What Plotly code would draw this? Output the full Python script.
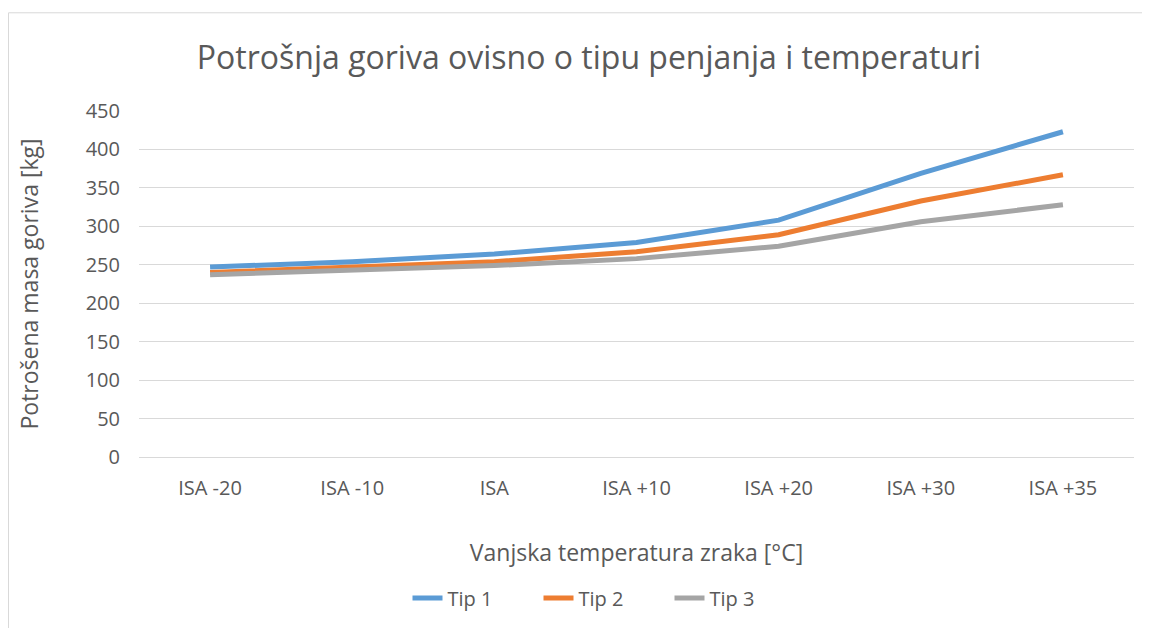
import plotly.graph_objects as go

categories = ["ISA -20", "ISA -10", "ISA", "ISA +10", "ISA +20", "ISA +30", "ISA +35"]
tip1 = [247, 254, 264, 279, 308, 369, 423]
tip2 = [240, 247, 254, 267, 289, 333, 367]
tip3 = [237, 243, 249, 258, 274, 306, 328]
y_ticks = [0, 50, 100, 150, 200, 250, 300, 350, 400, 450]

series = [("Tip 1", tip1, "#5B9BD5"), ("Tip 2", tip2, "#ED7D31"), ("Tip 3", tip3, "#A5A5A5")]

FONT = "Open Sans"
GREY = "#595959"
OFF = 8  # page offset of the figure inside the browser window

fig = go.Figure()
for name, vals, col in series:
    fig.add_trace(go.Scatter(x=categories, y=vals, name=name, mode="lines",
                             line=dict(color=col, width=5)))

W, H = 1150 - OFF, 628 - OFF
L = 139 - OFF
T = 111 - OFF
R = W - (1134 - OFF)
B = H - (458 - OFF)
pw = W - L - R
ph = H - T - B

def px_x(p):
    return (p - OFF - L) / pw

def px_y(p):
    return (H - B - (p - OFF)) / ph

fig.update_layout(
    width=W, height=H,
    margin=dict(l=L, r=R, t=T, b=B),
    paper_bgcolor="white", plot_bgcolor="white",
    font=dict(family=FONT, color=GREY, size=20),
    title=dict(text="Potrošnja goriva ovisno o tipu penjanja i temperaturi",
               x=(589 - OFF) / W, xanchor="center", y=1 - (58 - OFF) / H, yanchor="middle",
               font=dict(family=FONT, size=32, color=GREY)),
    xaxis=dict(range=[-0.5, 6.5], showgrid=False, showline=False, ticks="", zeroline=False,
               ticklabelstandoff=17,
               tickfont=dict(size=20, color=GREY),
               title=dict(text="Vanjska temperatura zraka [°C]", font=dict(size=23, color=GREY),
                          standoff=44)),
    yaxis=dict(range=[0, 450], tickvals=y_ticks, showgrid=True, gridcolor="#D9D9D9", gridwidth=1,
               zeroline=True, zerolinecolor="#D9D9D9", zerolinewidth=1, showline=False,
               ticks="", ticklabelstandoff=18,
               tickfont=dict(size=20, color=GREY),
               title=dict(text="Potrošena masa goriva [kg]", font=dict(size=23, color=GREY),
                          standoff=40)),
    legend=dict(orientation="h", x=px_x(604), xanchor="center", y=px_y(598), yanchor="middle",
                font=dict(size=20, color=GREY), traceorder="normal",
                entrywidth=86, entrywidthmode="pixels"),
    showlegend=True,
)

# chart border (top and left edges visible)
fig.add_shape(type="line", xref="paper", yref="paper",
              x0=px_x(8.5), x1=px_x(1160), y0=px_y(12.5), y1=px_y(12.5),
              line=dict(color="#D9D9D9", width=1))
fig.add_shape(type="line", xref="paper", yref="paper",
              x0=px_x(8.5), x1=px_x(8.5), y0=px_y(12.5), y1=px_y(640),
              line=dict(color="#D9D9D9", width=1))

fig.write_html("out.html")
